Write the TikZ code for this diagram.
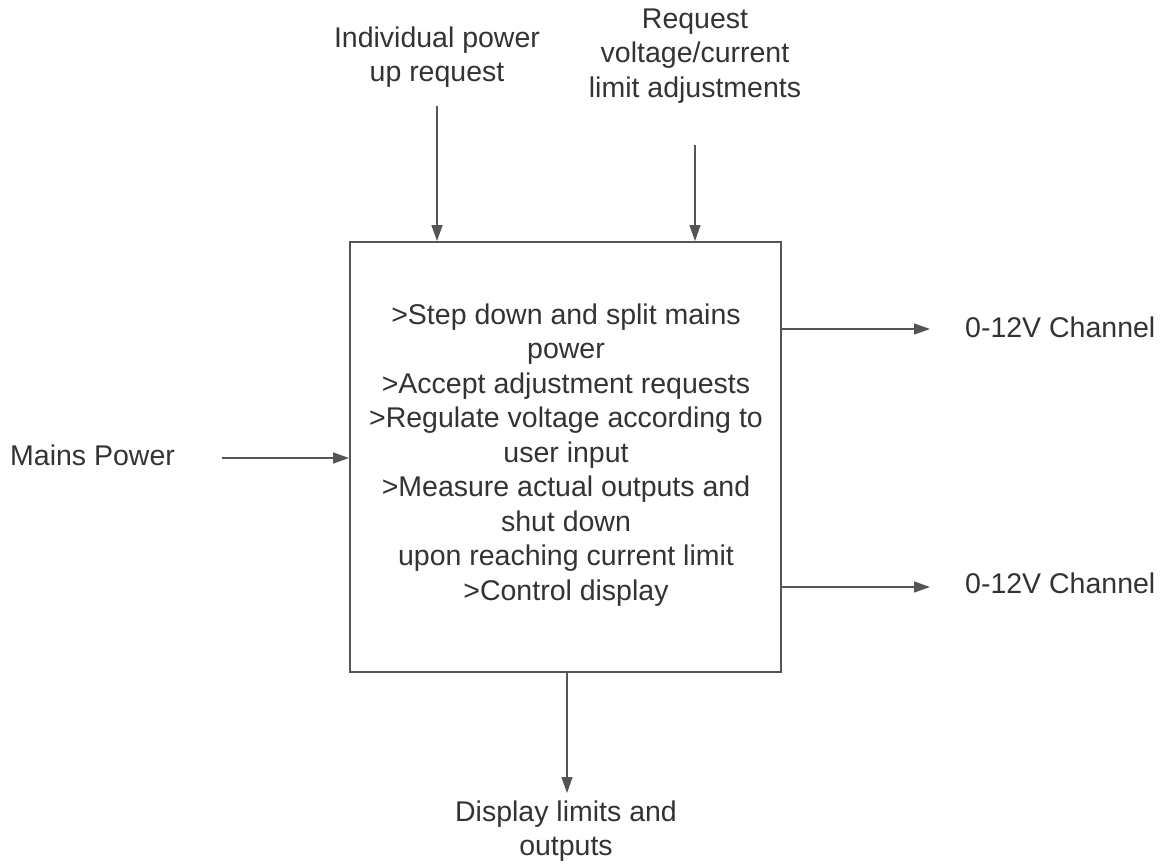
\documentclass[tikz,border=0pt]{standalone}
\usepackage{fontspec}
\setmainfont{Liberation Sans}
\usetikzlibrary{arrows.meta}
\definecolor{txt}{HTML}{333333}
\definecolor{ln}{HTML}{555555}
\begin{document}
\begin{tikzpicture}[x=1pt,y=-1pt,
  lbl/.style={text=txt,font=\fontsize{28.5}{34.5}\selectfont,align=center,inner sep=0pt},
  arr/.style={draw=ln,line width=1.4pt,-{Triangle[length=16pt,width=11pt]}},
  mainbox/.style={draw=ln,line width=2pt,minimum width=431pt,minimum height=430pt,inner sep=0pt}]
\useasboundingbox (0,0) rectangle (1164,865);
\node[mainbox,lbl,draw=ln,text width=420pt] (box) at (565.5,457) {};
\node[lbl] (boxtxt) at (566,455) {>Step down and split mains\\power\\>Accept adjustment requests\\>Regulate voltage according to\\user input\\>Measure actual outputs and\\shut down\\upon reaching current limit\\>Control display};
\node[lbl] (ind) at (437,57) {Individual power\\up request};
\node[lbl] (req) at (695,56) {Request\\voltage/current\\limit adjustments};
\node[lbl,anchor=west] (mains) at (10,455) {Mains Power};
\node[lbl,anchor=west] (ch1) at (965,327) {0-12V Channel};
\node[lbl,anchor=west] (ch2) at (965,583) {0-12V Channel};
\node[lbl] (disp) at (566,831) {Display limits and\\outputs};
\coordinate (s1) at (437,106);
\coordinate (s2) at (695,145);
\coordinate (s3) at (222,458);
\coordinate (e1) at (930,329);
\coordinate (e2) at (930,587);
\coordinate (e3) at (567,793);
\draw[arr] (s1) -- (s1 |- box.north);
\draw[arr] (s2) -- (s2 |- box.north);
\draw[arr] (s3) -- (s3 -| box.west);
\draw[arr] (e1 -| box.east) -- (e1);
\draw[arr] (e2 -| box.east) -- (e2);
\draw[arr] (e3 |- box.south) -- (e3);
\end{tikzpicture}
\end{document}
